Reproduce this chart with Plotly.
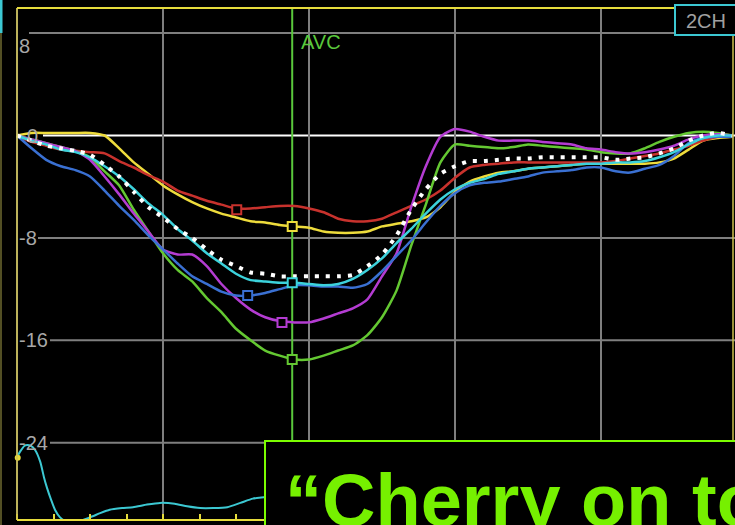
import plotly.graph_objects as go

# ---------------------------------------------------------------------------
# Longitudinal strain (%) of the six 2-chamber segments plus their average,
# sampled every 20 ms over one cardiac cycle.
# ---------------------------------------------------------------------------
time_ms = list(range(0, 1000, 20))

strain_yellow = [0.0, 0.2, 0.2, 0.2, 0.2, 0.2, 0.0, -1.0, -2.1, -3.0,
                 -3.9, -4.6, -5.2, -5.7, -6.1, -6.4, -6.7, -6.8, -7.0, -7.1,
                 -7.2, -7.5, -7.6, -7.6, -7.5, -7.1, -6.9, -6.7, -6.4, -5.6,
                 -4.4, -3.6, -3.2, -2.9, -2.8, -2.6, -2.5, -2.4, -2.3, -2.2,
                 -2.2, -2.2, -2.2, -2.2, -2.1, -1.8, -1.1, -0.4, -0.2, -0.1]

strain_red = [0.0, -0.5, -0.8, -1.1, -1.2, -1.3, -1.4, -2.0, -2.5, -3.1,
              -3.6, -4.3, -4.7, -5.1, -5.4, -5.7, -5.7, -5.6, -5.5, -5.5,
              -5.7, -6.0, -6.5, -6.7, -6.7, -6.5, -6.0, -5.5, -5.0, -4.3,
              -3.3, -2.5, -2.3, -2.2, -2.1, -2.1, -2.1, -2.1, -2.1, -2.1,
              -2.1, -2.0, -1.8, -1.6, -1.4, -1.1, -0.8, -0.4, -0.1, -0.1]

strain_green = [0.0, -0.3, -0.6, -0.9, -1.2, -1.7, -2.8, -3.9, -5.8, -7.5,
                -9.2, -10.5, -11.4, -12.7, -13.8, -15.1, -16.0, -16.8, -17.2, -17.5,
                -17.5, -17.2, -16.8, -16.4, -15.6, -14.2, -12.1, -8.6, -5.4, -2.1,
                -0.7, -0.8, -0.9, -1.0, -0.9, -0.7, -0.8, -0.9, -1.0, -1.1,
                -1.3, -1.4, -1.4, -1.0, -0.5, -0.1, 0.2, 0.3, 0.2, 0.0]

strain_magenta = [0.0, -0.3, -0.6, -0.9, -1.2, -1.9, -3.2, -4.6, -6.1, -7.5,
                  -8.9, -9.3, -9.3, -10.2, -11.6, -12.7, -13.6, -14.2, -14.5, -14.6,
                  -14.6, -14.3, -13.9, -13.5, -12.8, -11.0, -9.2, -5.6, -2.4, -0.1,
                  0.5, 0.3, -0.1, -0.4, -0.4, -0.4, -0.5, -0.6, -0.7, -1.0,
                  -1.1, -1.3, -1.4, -1.3, -1.1, -0.8, -0.3, 0.0, 0.1, 0.0]

strain_blue = [0.0, -1.0, -1.9, -2.4, -2.7, -3.2, -4.3, -5.5, -6.6, -7.8,
               -8.9, -10.0, -11.0, -11.6, -12.2, -12.5, -12.5, -12.3, -12.0, -11.7,
               -11.7, -11.8, -11.8, -11.9, -11.6, -10.6, -9.4, -8.2, -6.8, -5.5,
               -4.5, -3.9, -3.7, -3.6, -3.4, -3.2, -2.9, -2.8, -2.7, -2.5,
               -2.5, -2.8, -2.9, -2.6, -2.3, -1.6, -0.6, -0.2, -0.1, -0.1]

strain_cyan = [0.0, -0.4, -0.7, -1.1, -1.3, -1.7, -2.4, -3.2, -4.2, -5.3,
               -6.2, -7.3, -8.2, -9.2, -10.0, -10.8, -11.3, -11.4, -11.5, -11.5,
               -11.6, -11.7, -11.6, -11.2, -10.5, -9.6, -8.4, -7.3, -6.1, -5.0,
               -4.2, -3.7, -3.4, -3.0, -2.8, -2.6, -2.5, -2.4, -2.3, -2.2,
               -2.2, -2.1, -2.1, -2.0, -1.7, -1.3, -0.7, -0.2, 0.0, 0.0]

strain_average = [0.0, -0.4, -0.8, -1.0, -1.2, -1.5, -2.3, -3.2, -4.4, -5.6,
                  -6.4, -7.3, -8.0, -8.9, -9.7, -10.2, -10.7, -10.8, -11.0, -11.0,
                  -11.0, -11.0, -11.0, -10.9, -10.2, -9.3, -7.8, -5.8, -4.2, -3.0,
                  -2.4, -2.0, -2.0, -1.9, -1.8, -1.8, -1.7, -1.7, -1.7, -1.7,
                  -1.7, -1.9, -1.8, -1.7, -1.4, -1.0, -0.4, 0.0, 0.2, 0.0]

# Peak systolic strain markers (time in ms, strain in %)
peak_ms = [301, 377, 377, 363, 316, 377]
peak_strain = [-5.8, -7.1, -17.5, -14.6, -12.5, -11.5]
peak_colors = ["#c8322d", "#eedc3c", "#64c832", "#b43cd2", "#3a70d2", "#3cd2dc"]

# Aortic valve closure
avc_ms = 377

# ECG strip (time in ms, amplitude in mV)
ecg_ms = [0, 4, 10, 14, 19, 25, 32, 37, 41, 47, 52, 59, 66, 75, 86, 100,
          114, 127, 144, 159, 178, 196, 216, 233, 251, 269, 288, 306, 323, 340, 360]
ecg_mv = [0.80, 0.86, 0.93, 0.94, 0.93, 0.88, 0.74, 0.56, 0.44, 0.29, 0.18,
          0.09, 0.05, 0.04, 0.05, 0.09, 0.14, 0.18, 0.20, 0.21, 0.24, 0.26,
          0.25, 0.22, 0.20, 0.20, 0.21, 0.26, 0.31, 0.33, 0.36]
ecg_marker_ms = [1]
ecg_marker_mv = [0.79]

# Strain scale labels
strain_ticks = [8, 0, -8, -16, -24]
strain_tick_text = ["8", "0", "-8", "-16", "-24"]

# ---------------------------------------------------------------------------
W, H = 735, 525
M_TOP, M_BOT = 8, 5
PLOT_H = H - M_TOP - M_BOT


def px_x(px):
    return px / W


def px_y(py):
    return (H - M_BOT - py) / PLOT_H


YELLOW = "#e6dc3c"
GRID = "#7f7f7f"
LABEL = "#a8a8a8"

fig = go.Figure()

segments = [
    (strain_yellow, "#eedc3c"),
    (strain_red, "#c8322d"),
    (strain_green, "#64c832"),
    (strain_magenta, "#b43cd2"),
    (strain_blue, "#3a70d2"),
    (strain_cyan, "#3cd2dc"),
]
for values, color in segments:
    fig.add_trace(go.Scatter(
        x=time_ms, y=values, mode="lines",
        line=dict(color=color, width=2.5, shape="spline", smoothing=0.6),
        hoverinfo="skip",
    ))

fig.add_trace(go.Scatter(
    x=time_ms, y=strain_average, mode="lines",
    line=dict(color="white", width=4, dash="4px,7px", shape="spline", smoothing=0.6),
    hoverinfo="skip",
))

fig.add_trace(go.Scatter(
    x=peak_ms, y=peak_strain, mode="markers",
    marker=dict(symbol="square", size=9, color="black",
                line=dict(color=peak_colors, width=2)),
    hoverinfo="skip",
))

fig.add_trace(go.Scatter(
    x=ecg_ms, y=ecg_mv, mode="lines", yaxis="y2",
    line=dict(color="#3cc8d2", width=2, shape="spline", smoothing=0.5),
    hoverinfo="skip",
))
fig.add_trace(go.Scatter(
    x=ecg_marker_ms, y=ecg_marker_mv, mode="markers", yaxis="y2",
    marker=dict(color="#e6dc3c", size=6), cliponaxis=False,
    hoverinfo="skip",
))

# Horizontal scale lines begin just right of their labels
grid_start_px = {8: 29, 0: 43, -8: 38, -16: 50, -24: 50}
shapes = []
for v in strain_ticks:
    shapes.append(dict(
        type="line", xref="paper", yref="y",
        x0=px_x(grid_start_px[v]), x1=1.0, y0=v, y1=v,
        line=dict(color="white" if v == 0 else GRID, width=2),
        layer="between",
    ))

# AVC marker line
shapes.append(dict(type="line", xref="x", yref="paper", x0=avc_ms, x1=avc_ms,
                   y0=0, y1=1, line=dict(color="#5ac83c", width=2), layer="between"))

# Frame
shapes += [
    dict(type="line", xref="x", yref="paper", x0=0, x1=0, y0=0, y1=1,
         line=dict(color="#cfc24e", width=1.5), layer="above"),
    dict(type="line", xref="x", yref="paper", x0=0, x1=990, y0=1, y1=1,
         line=dict(color=YELLOW, width=2), layer="above"),
    dict(type="line", xref="x", yref="paper", x0=0, x1=990, y0=0, y1=0,
         line=dict(color=YELLOW, width=2), layer="above"),
    dict(type="line", xref="paper", yref="paper", x0=px_x(733), x1=px_x(733),
         y0=0, y1=1, line=dict(color="#cfc24e", width=1.5), layer="above"),
    dict(type="line", xref="paper", yref="paper", x0=px_x(1), x1=px_x(1),
         y0=px_y(525), y1=px_y(0), line=dict(color="#6e6a30", width=1.5), layer="above"),
    dict(type="line", xref="paper", yref="paper", x0=px_x(1), x1=px_x(1),
         y0=px_y(33), y1=px_y(0), line=dict(color="#3cc8d2", width=3), layer="above"),
    # view badge
    dict(type="rect", xref="paper", yref="paper", x0=px_x(675), x1=px_x(745),
         y0=px_y(35), y1=px_y(5), fillcolor="black",
         line=dict(color="#3cc8d2", width=2), layer="above"),
    # caption box
    dict(type="rect", xref="paper", yref="paper", x0=px_x(265), x1=px_x(750),
         y0=px_y(535), y1=px_y(441), fillcolor="black",
         line=dict(color="#7cfc00", width=2), layer="above"),
]

annotations = []
label_left_px = {8: 17, 0: 25, -8: 17, -16: 17, -24: 17}
for v, txt in zip(strain_ticks, strain_tick_text):
    annotations.append(dict(
        text=txt, xref="paper", yref="y", x=px_x(label_left_px[v]),
        y=v - 1.0 if v == max(strain_ticks) else v,
        xanchor="left", yanchor="middle", showarrow=False,
        font=dict(family="Liberation Sans, Arial", size=20, color=LABEL),
    ))

annotations += [
    dict(text="AVC", xref="paper", yref="paper", x=px_x(299), y=px_y(42),
         xanchor="left", yanchor="middle", showarrow=False,
         font=dict(family="Liberation Sans, Arial", size=20, color="#5ac83c")),
    dict(text="2CH", xref="paper", yref="paper", x=px_x(706), y=px_y(21),
         xanchor="center", yanchor="middle", showarrow=False,
         font=dict(family="Liberation Sans, Arial", size=20, color="#a0a0a0")),
    dict(text="<b>\u201cCherry on top\u201d</b>", xref="paper", yref="paper",
         x=px_x(283), y=px_y(457), xanchor="left", yanchor="top", showarrow=False,
         font=dict(family="Liberation Sans, Arial", size=74, color="#76f000")),
]

x_left = -17 / 0.73
x_right = (W - 17) / 0.73
y_top = (135.5 - M_TOP) / 12.8
y_bot = -(H - M_BOT - 135.5) / 12.8
ecg_px_per_mv = 85.0
ecg_bot = (H - (H - M_BOT)) / ecg_px_per_mv
ecg_top = ecg_bot + PLOT_H / ecg_px_per_mv

fig.update_layout(
    width=W, height=H,
    margin=dict(l=0, r=0, t=M_TOP, b=M_BOT, pad=0),
    paper_bgcolor="black", plot_bgcolor="black",
    showlegend=False,
    xaxis=dict(range=[x_left, x_right], showgrid=True, gridcolor=GRID, gridwidth=2,
               tick0=0, dtick=200, ticks="inside", ticklen=6, tickwidth=2,
               tickcolor=YELLOW, showticklabels=False, zeroline=False, showline=False,
               minor=dict(dtick=50, tick0=0, ticks="inside", ticklen=6, tickwidth=2,
                          tickcolor=YELLOW, showgrid=False)),
    yaxis=dict(range=[y_bot, y_top], showgrid=False, zeroline=False,
               showticklabels=False, ticks=""),
    yaxis2=dict(range=[ecg_bot, ecg_top], overlaying="y", visible=False),
    shapes=shapes,
    annotations=annotations,
)

fig.write_html("out.html")
